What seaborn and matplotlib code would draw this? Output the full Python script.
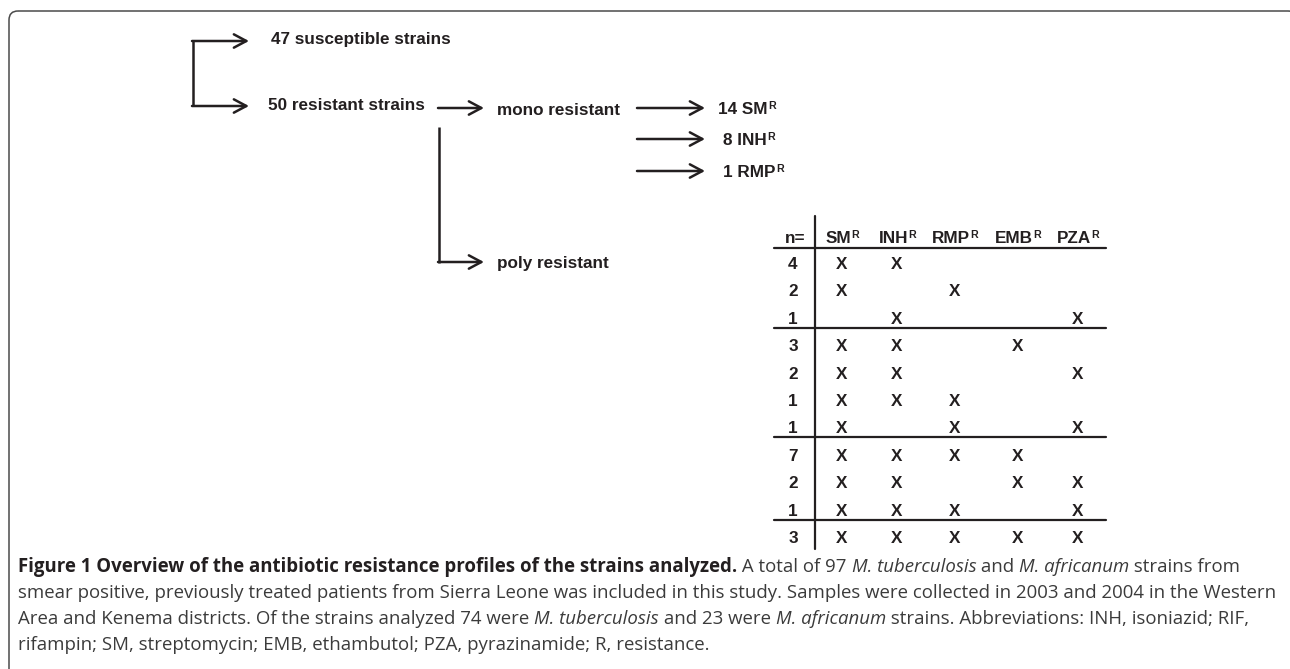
import numpy as np
import pandas as pd
import seaborn as sns
import matplotlib.pyplot as plt
from matplotlib.patches import FancyArrowPatch, FancyBboxPatch

# ---- data ----
n_susceptible = 47
n_resistant = 50
mono_counts = [14, 8, 1]
mono_drugs = ['SM', 'INH', 'RMP']
drugs = ['SM', 'INH', 'RMP', 'EMB', 'PZA']
poly_n = [4, 2, 1, 3, 2, 1, 1, 7, 2, 1, 3]
poly_pattern = [
    [1, 1, 0, 0, 0],
    [1, 0, 1, 0, 0],
    [0, 1, 0, 0, 1],
    [1, 1, 0, 1, 0],
    [1, 1, 0, 0, 1],
    [1, 1, 1, 0, 0],
    [1, 0, 1, 0, 1],
    [1, 1, 1, 1, 0],
    [1, 1, 0, 1, 1],
    [1, 1, 1, 0, 1],
    [1, 1, 1, 1, 1],
]

caption_lines = [
    [('Figure 1 Overview of the antibiotic resistance profiles of the strains analyzed.', 'bold', 'normal'),
     (' A total of 97 ', 'normal', 'normal'), ('M. tuberculosis', 'normal', 'italic'),
     (' and ', 'normal', 'normal'), ('M. africanum', 'normal', 'italic'),
     (' strains from', 'normal', 'normal')],
    [('smear positive, previously treated patients from Sierra Leone was included in this study. '
      'Samples were collected in 2003 and 2004 in the Western', 'normal', 'normal')],
    [('Area and Kenema districts. Of the strains analyzed 74 were ', 'normal', 'normal'),
     ('M. tuberculosis', 'normal', 'italic'), (' and 23 were ', 'normal', 'normal'),
     ('M. africanum', 'normal', 'italic'),
     (' strains. Abbreviations: INH, isoniazid; RIF,', 'normal', 'normal')],
    [('rifampin; SM, streptomycin; EMB, ethambutol; PZA, pyrazinamide; R, resistance.', 'normal', 'normal')],
]

table = pd.DataFrame(poly_pattern, columns=drugs)
table['n'] = poly_n
table['k'] = table[drugs].sum(axis=1)

sns.set_theme(style='white')
dark = '#231f20'
fam = 'Liberation Sans'
fs = 12.3

fig = plt.figure(figsize=(12.9, 6.69), dpi=100)
ax = fig.add_axes([0, 0, 1, 1])
ax.set_xlim(0, 1290)
ax.set_ylim(669, 0)
ax.axis('off')
renderer = fig.canvas.get_renderer()


def text_w(s, **kw):
    t = ax.text(0, 0, '|' + s + '|', **kw)
    w1 = t.get_window_extent(renderer).width
    t.set_text('||')
    w0 = t.get_window_extent(renderer).width
    t.remove()
    return w1 - w0


def label_r(x, y, main, size=fs, ha='left'):
    # bold label followed by a raised small "R"
    kw = dict(fontsize=size, fontweight='bold', family=fam, color=dark)
    w = text_w(main, **kw)
    kr = dict(fontsize=size * 0.62, fontweight='bold', family=fam, color=dark)
    wr = text_w('R', **kr)
    if ha == 'center':
        x = x - (w + wr) / 2
    ax.text(x, y, main, va='baseline', ha='left', **kw)
    ax.text(x + w + 0.5, y - 5, 'R', va='baseline', ha='left', **kr)


def arrow(x0, x1, y):
    ax.add_patch(FancyArrowPatch((x0, y), (x1, y), arrowstyle='->,head_length=0.9,head_width=0.48',
                                 mutation_scale=10, lw=1.8, color=dark, shrinkA=0, shrinkB=0))


# frame (right and bottom sides fall outside the picture)
ax.add_patch(FancyBboxPatch((9, 11), 1288, 700, boxstyle='round,pad=0,rounding_size=9',
                            fill=False, lw=1.1, ec='#4a4a4a'))

# tree
ax.plot([193, 193], [41, 106], color=dark, lw=1.8, solid_capstyle='butt')
arrow(192, 249, 41)
arrow(192, 249, 106)
ax.text(271, 44, f'{n_susceptible} susceptible strains', fontsize=fs, fontweight='bold', family=fam, color=dark)
ax.text(268, 110, f'{n_resistant} resistant strains', fontsize=fs, fontweight='bold', family=fam, color=dark)

arrow(438, 484, 108)
ax.text(497, 115, 'mono resistant', fontsize=fs, fontweight='bold', family=fam, color=dark)
ax.plot([439, 439], [127, 263], color=dark, lw=1.8, solid_capstyle='butt')
arrow(438, 484, 262)
ax.text(497, 268, 'poly resistant', fontsize=fs, fontweight='bold', family=fam, color=dark)

mono_y = [108, 139, 171]
for c, d, yy in zip(mono_counts, mono_drugs, mono_y):
    arrow(637, 705, yy)
    label_r(718 if c >= 10 else 723, yy + 6, f'{c} {d}')

# poly table
col_x = [842, 897, 955, 1018, 1078]
n_x = 793
head_y = 237
row_y = 263 + np.arange(len(table)) * 27.4
ax.plot([815, 815], [216, 549], color=dark, lw=1.6)
ax.plot([774, 1106], [head_y + 11, head_y + 11], color=dark, lw=1.6)
ax.text(806, head_y + 6, 'n=', ha='right', va='baseline', fontsize=fs, fontweight='bold', family=fam, color=dark)
for d, cx in zip(drugs, col_x):
    label_r(cx, head_y + 6, d, ha='center')

for i, row in table.iterrows():
    yy = row_y[i]
    ax.text(n_x, yy + 6, str(row['n']), ha='center', va='baseline', fontsize=fs, fontweight='bold',
            family=fam, color=dark)
    for d, cx in zip(drugs, col_x):
        if row[d]:
            ax.text(cx, yy + 6, 'X', ha='center', va='baseline', fontsize=fs, fontweight='bold',
                    family=fam, color=dark)
    # rule under the last row of each group (same number of drugs)
    if i + 1 < len(table) and table['k'][i + 1] != row['k']:
        ax.plot([774, 1106], [yy + 10, yy + 10], color=dark, lw=1.6)

# caption, fitted to the width of the second line
cap_fam = 'Open Sans'


def line_width(parts, size):
    return sum(text_w(s, fontsize=size, fontweight=w, fontstyle=st, family=cap_fam) for s, w, st in parts)


cap_fs = 10 * 1257 / line_width(caption_lines[1], 10)
cap_y = [572, 598, 624, 650]
for parts, yy in zip(caption_lines, cap_y):
    x = 18
    for s, w, st in parts:
        kw = dict(fontsize=cap_fs, fontweight=w, fontstyle=st, family=cap_fam,
                  color=dark if w == 'bold' else '#3b3b3b')
        ax.text(x, yy, s, va='baseline', ha='left', **kw)
        x += text_w(s, **kw)

fig.savefig('out.png', dpi=100)
